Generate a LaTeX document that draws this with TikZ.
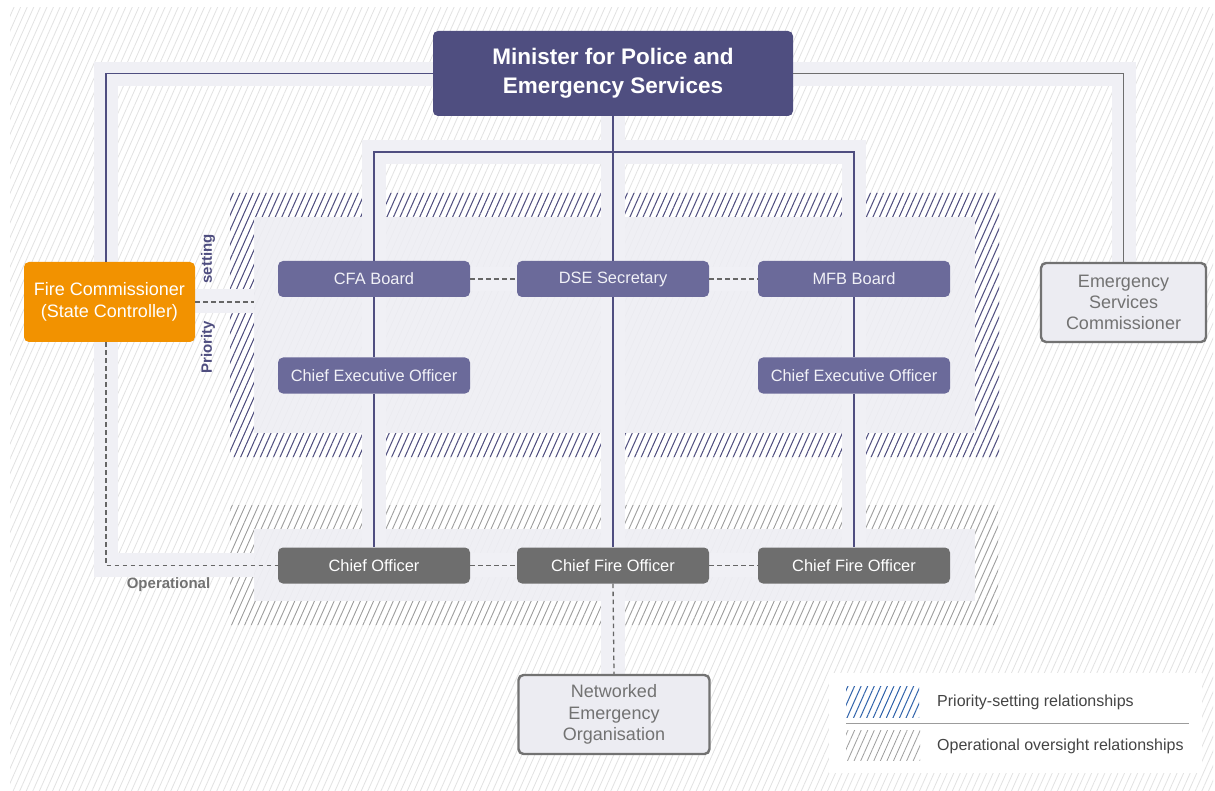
\documentclass[tikz,border=0pt]{standalone}
\usepackage{fontspec}
\setmainfont{Liberation Sans}
\usetikzlibrary{patterns.meta}
\definecolor{navy}{HTML}{4F4E80}
\definecolor{board}{HTML}{6B6A9A}
\definecolor{opgray}{HTML}{6E6E6E}
\definecolor{band}{HTML}{F0F0F5}
\definecolor{panel}{HTML}{EDEDF3}
\definecolor{orangefc}{HTML}{F29200}
\definecolor{boxfill}{HTML}{ECECF2}
\definecolor{boxline}{HTML}{727272}
\definecolor{bghatch}{HTML}{E2E2E2}
\definecolor{ophatch}{HTML}{9C9C9C}
\definecolor{leghatch}{HTML}{2F62AA}
\definecolor{dashgray}{HTML}{666666}
\definecolor{legtext}{HTML}{444444}
\definecolor{boardtext}{HTML}{F1F1F7}
\begin{document}
\begin{tikzpicture}[x=1pt,y=-1pt,
  box/.style={rectangle, rounded corners=5pt, inner sep=0pt, align=center},
  boardbox/.style={box, fill=board, text=boardtext, minimum width=192pt, minimum height=36pt, font=\fontsize{16.4}{19}\selectfont},
  opbox/.style={boardbox, fill=opgray, text=white},
  greybox/.style={box, fill=boxfill, draw=boxline, line width=2.4pt, text=boxline, font=\fontsize{18}{21.3}\selectfont, minimum height=79pt},
  bandline/.style={band, line width=24pt, line join=miter, line cap=butt},
  navyline/.style={navy, line width=1.5pt},
  greyline/.style={opgray, line width=1.8pt},
  dashline/.style={dashgray, line width=1.3pt, dash pattern=on 4.5pt off 3.5pt},
  hatchbg/.style={pattern={Lines[angle=66,distance=6pt,line width=0.8pt]}, pattern color=bghatch},
  hatchpri/.style={pattern={Lines[angle=66,distance=6pt,line width=1pt]}, pattern color=navy},
  hatchop/.style={pattern={Lines[angle=66,distance=6pt,line width=0.8pt]}, pattern color=ophatch},
  hatchleg/.style={pattern={Lines[angle=66,distance=6pt,line width=1pt]}, pattern color=leghatch},
  sidelabel/.style={rotate=90, font=\bfseries\fontsize{15}{18}\selectfont, text=navy}
]
\useasboundingbox (0,0) rectangle (1215,791);
% background
\fill[white] (0,0) rectangle (1215,791);
\fill[hatchbg] (10,8) rectangle (1213,791);

% hatched regions
\fill[hatchpri, even odd rule] (230,193) rectangle (999,457) (254,217) rectangle (975,433);
\fill[panel, opacity=0.85] (254,217) rectangle (975,433);
\fill[hatchop, even odd rule] (230,505) rectangle (998,625) (254,529) rectangle (975,601);
\fill[panel, opacity=0.85] (254,529) rectangle (975,601);

% bands
\draw[bandline] (433,74) -- (106,74) -- (106,565) -- (254,565);
\draw[bandline] (793,74) -- (1123.5,74) -- (1123.5,262);
\draw[bandline] (374,548) -- (374,152) -- (853.5,152) -- (853.5,548);
\draw[bandline] (613,116) -- (613,674);
\draw[bandline] (195,301) -- (254,301);
\draw[bandline] (470,279) -- (518,279);
\draw[bandline] (709,279) -- (758,279);
\draw[bandline] (470,565) -- (518,565);
\draw[bandline] (709,565) -- (758,565);

% nodes
\node[box, fill=navy, text=white, minimum width=360pt, minimum height=85pt, font=\bfseries\fontsize{22.5}{29}\selectfont] (min) at (613,73.5) {Minister for Police and\\Emergency Services};
\node[box, fill=orangefc, text=white, minimum width=171pt, minimum height=80pt, font=\fontsize{18}{22}\selectfont] (fc) at (109.5,302) {Fire Commissioner\\(State Controller)};
\node[greybox, minimum width=165pt] (esc) at (1123.5,302.5) {Emergency\\Services\\Commissioner};

\node[boardbox] (cfa) at (374,279) {CFA Board};
\node[boardbox] (dse) at (613,279) {DSE Secretary};
\node[boardbox] (mfb) at (854,279) {MFB Board};
\node[boardbox] (ceo1) at (374,375.5) {Chief Executive Officer};
\node[boardbox] (ceo2) at (854,375.5) {Chief Executive Officer};

\node[opbox] (co) at (374,565.5) {Chief Officer};
\node[opbox] (cfo) at (613,565.5) {Chief Fire Officer};
\node[opbox] (cfo2) at (854,565.5) {Chief Fire Officer};

\node[greybox, minimum width=191pt] (neo) at (614,714.5) {Networked\\Emergency\\Organisation};

% connectors
\coordinate (tl) at (374,152);
\coordinate (tr) at (854,152);
\coordinate (pl) at (254,302);
\draw[navyline] (min.west) -| ([xshift=-3.5pt]fc.north);
\draw[greyline] (min.east) -| (esc.north);
\draw[navyline] (cfa.north) -- (tl) -- (tr) -- (mfb.north);
\draw[navyline] (min.south) -- (dse.north);
\draw[navyline] (dse.south) -- (cfo.north);
\draw[navyline] (cfa.south) -- (ceo1.north);
\draw[navyline] (ceo1.south) -- (co.north);
\draw[navyline] (mfb.south) -- (ceo2.north);
\draw[navyline] (ceo2.south) -- (cfo2.north);

\draw[dashline] ([xshift=-3.5pt]fc.south) |- (co.west);
\draw[dashline] (fc.east) -- (pl);
\draw[dashline] (cfa.east) -- (dse.west);
\draw[dashline] (dse.east) -- (mfb.west);
\draw[dashline] (co.east) -- (cfo.west);
\draw[dashline] (cfo.east) -- (cfo2.west);
\draw[dashline] (cfo.south) -- (neo.north);

% labels
\node[sidelabel] (setl) at (208,259) {setting};
\node[sidelabel] (pril) at (208,347) {Priority};
\node[font=\bfseries\fontsize{15}{18}\selectfont, text=boxline] (opl) at (168.5,585) {Operational};

% legend
\fill[white] (829,673) rectangle (1202,773);
\fill[hatchleg] (846,686) rectangle (919,717);
\draw[boxline!70, line width=1pt] (846,723) -- (1189,723);
\fill[hatchop] (846,730) rectangle (920,760);
\node[anchor=west, inner sep=0pt, font=\fontsize{16}{19}\selectfont, text=legtext] (l1) at (937,702) {Priority-setting relationships};
\node[anchor=west, inner sep=0pt, font=\fontsize{16}{19}\selectfont, text=legtext] (l2) at (937,746) {Operational oversight relationships};
\end{tikzpicture}
\end{document}
